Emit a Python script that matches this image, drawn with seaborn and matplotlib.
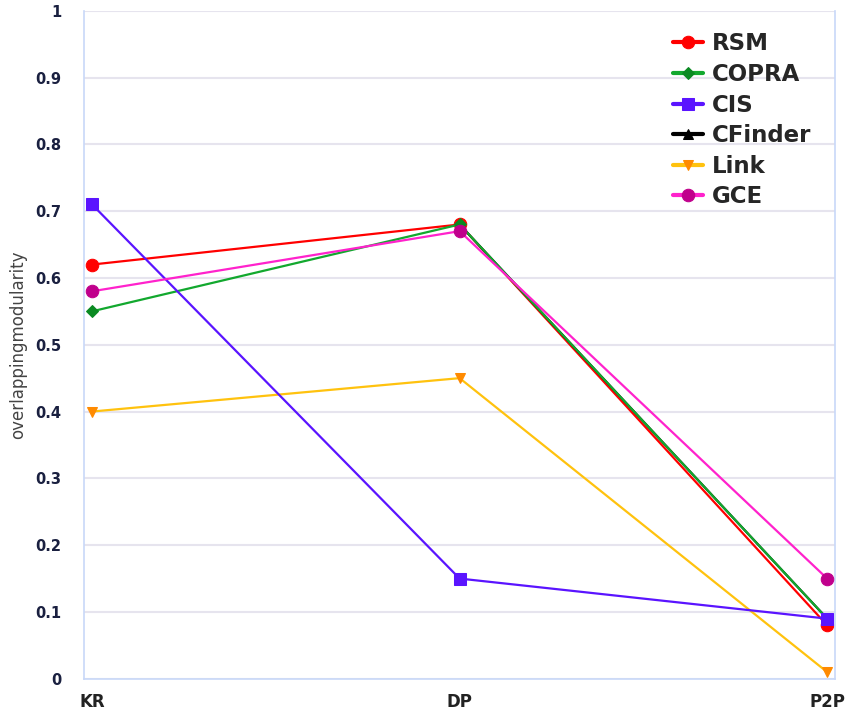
import matplotlib
matplotlib.use("Agg")
import matplotlib.pyplot as plt
import seaborn as sns
import numpy as np
import pandas as pd

datasets = ["KR", "DP", "P2P"]
rsm = [0.62, 0.68, 0.08]
copra = [0.55, 0.68, 0.09]
cis = [0.71, 0.15, 0.09]
cfinder = [np.nan, 0.68, 0.09]
link = [0.40, 0.45, 0.01]
gce = [0.58, 0.67, 0.15]

# name, values, line colour, marker colour, marker, size, zorder
series = [
    ("RSM", rsm, "#ff0000", "#ff0000", "o", 9, 2.0),
    ("COPRA", copra, "#12a82e", "#0a8a22", "D", 6, 2.4),
    ("CIS", cis, "#5a14ff", "#5a14ff", "s", 9, 2.6),
    ("CFinder", cfinder, "#000000", "#000000", "^", 7, 2.2),
    ("Link", link, "#ffc20e", "#ff8a00", "v", 7, 2.5),
    ("GCE", gce, "#ff22cc", "#c0008c", "o", 9, 2.8),
]

sns.set_style("white")
fig = plt.figure(figsize=(8.48, 7.13), dpi=100)
ax = fig.add_axes([0.099, 0.048, 0.886, 0.937])

for name, vals, lc, mc, mk, ms, z in series:
    df = pd.DataFrame({"x": range(len(datasets)), "y": vals}).dropna()
    sns.lineplot(data=df, x="x", y="y", ax=ax, color=lc, linewidth=1.6,
                 marker=mk, markersize=ms, markerfacecolor=mc,
                 markeredgecolor=mc, label=name, zorder=z)

ax.set_xlim(-0.022, 2.022)
ax.set_ylim(0, 1)
ax.set_xticks(range(len(datasets)))
ax.set_xticklabels(datasets)
ax.set_yticks(np.arange(0, 1.01, 0.1))
ax.set_yticklabels(["0", "0.1", "0.2", "0.3", "0.4", "0.5", "0.6", "0.7", "0.8", "0.9", "1"])
ax.yaxis.grid(True, color="#e6e4ee", linewidth=1.5)
ax.xaxis.grid(False)
for side in ["left", "right", "bottom"]:
    ax.spines[side].set_color("#c8d8f8")
    ax.spines[side].set_linewidth(1.2)
ax.spines["top"].set_visible(False)
ax.tick_params(axis="x", length=8, color="#c8d8f8", labelsize=12, labelcolor="#222222", pad=2)
ax.tick_params(axis="y", length=0, labelsize=10.5, labelcolor="#1a2040", pad=16)
for lbl in ax.get_xticklabels() + ax.get_yticklabels():
    lbl.set_fontweight("bold")
ax.set_xlabel("")
ax.set_ylabel("overlappingmodularity", fontsize=12, color="#444444", labelpad=6)

leg = ax.legend(loc="upper left", frameon=False, fontsize=16.5, handlelength=1.3,
                handletextpad=0.4, labelspacing=0.33, borderpad=0, borderaxespad=0,
                bbox_to_anchor=(0.784, 0.9675))
for t in leg.get_texts():
    t.set_fontweight("bold")
for h in leg.legend_handles:
    h.set_linewidth(3)

fig.savefig("out.png", dpi=100)
